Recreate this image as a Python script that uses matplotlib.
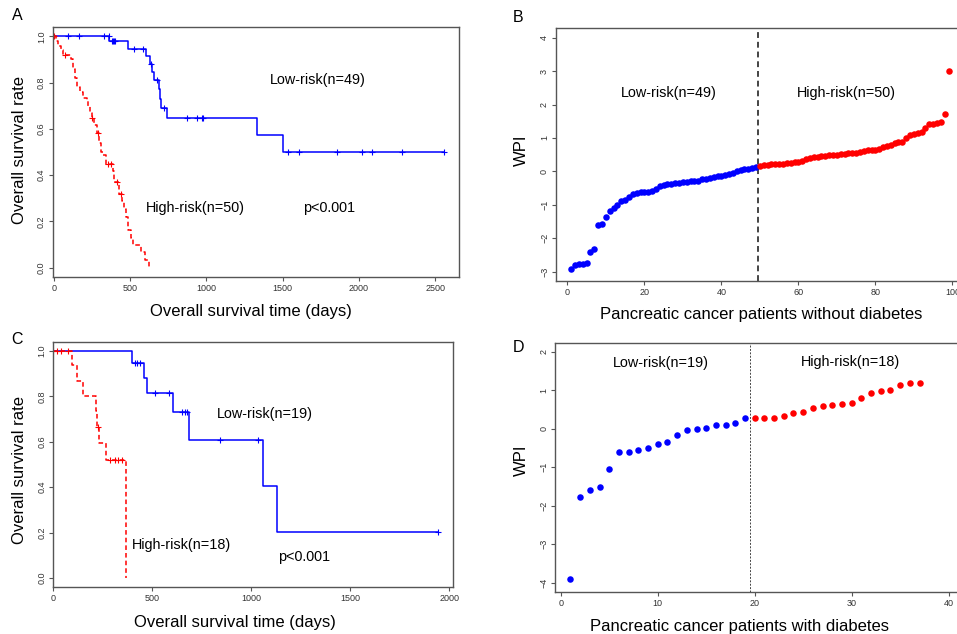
import numpy as np
import matplotlib
matplotlib.use("Agg")
import matplotlib.pyplot as plt

plt.rcParams['font.family'] = ['Liberation Sans', 'DejaVu Sans']

# ---------------- Data ----------------
# Panel A (without diabetes) KM step data
a_low_t = [0, 363, 483, 602, 630, 645, 658, 689, 696, 702, 739, 1330, 1500, 2560]
a_low_s = [1.0, 0.978, 0.946, 0.913, 0.880, 0.847, 0.812, 0.772, 0.731, 0.690, 0.645, 0.573, 0.501, 0.501]
a_low_cens = [94, 166, 330, 358, 380, 388, 395, 400, 525, 586, 636, 674, 724, 875, 936, 969, 975,
              1537, 1610, 1855, 2019, 2085, 2285, 2560]
a_high_t = [0, 13, 28, 44, 61, 109, 122, 138, 149, 171, 188, 214, 225, 236, 247, 262, 280, 297,
            309, 324, 341, 385, 394, 429, 444, 459, 472, 488, 503, 516, 569, 597, 625]
a_high_s = [1.0, 0.98, 0.96, 0.94, 0.92, 0.90, 0.86, 0.82, 0.78, 0.76, 0.735, 0.725, 0.70, 0.67,
            0.645, 0.615, 0.58, 0.54, 0.50, 0.485, 0.45, 0.42, 0.37, 0.32, 0.29, 0.255, 0.22,
            0.165, 0.13, 0.10, 0.07, 0.035, 0.0]
a_high_cens = [0, 72, 250, 286, 353, 374, 411, 437]

# Panel C (with diabetes) KM step data
c_low_t = [0, 396, 458, 471, 603, 685, 1061, 1128, 1945]
c_low_s = [1.0, 0.945, 0.879, 0.813, 0.732, 0.608, 0.406, 0.203, 0.203]
c_low_cens = [413, 424, 438, 514, 586, 648, 665, 677, 842, 1035, 1945]
c_high_t = [0, 96, 118, 152, 216, 222, 231, 266, 366]
c_high_s = [1.0, 0.937, 0.868, 0.801, 0.735, 0.666, 0.596, 0.52, 0.0]
c_high_cens = [0, 17, 39, 73, 227, 286, 312, 329, 345]

# Panel B: WPI, patients without diabetes (sorted)
b_low = [-2.91, -2.80, -2.78, -2.76, -2.74, -2.40, -2.33, -1.60, -1.57, -1.38, -1.20, -1.10,
         -1.00, -0.90, -0.86, -0.78, -0.69, -0.66, -0.63, -0.61, -0.61, -0.59, -0.54, -0.43,
         -0.40, -0.39, -0.38, -0.36, -0.34, -0.32, -0.31, -0.30, -0.30, -0.29, -0.24, -0.22,
         -0.21, -0.18, -0.15, -0.13, -0.11, -0.08, -0.04, 0.00, 0.04, 0.06, 0.07, 0.09, 0.14]
b_high = [0.17, 0.18, 0.20, 0.21, 0.22, 0.22, 0.23, 0.24, 0.26, 0.27, 0.28, 0.31, 0.38, 0.41,
          0.43, 0.44, 0.45, 0.47, 0.48, 0.49, 0.50, 0.51, 0.52, 0.54, 0.55, 0.56, 0.58, 0.61,
          0.64, 0.65, 0.65, 0.66, 0.74, 0.77, 0.80, 0.86, 0.89, 0.89, 0.99, 1.09, 1.11, 1.16,
          1.19, 1.31, 1.41, 1.42, 1.44, 1.49, 1.72, 3.00]

# Panel D: WPI, patients with diabetes (sorted)
d_low = [-3.90, -1.77, -1.59, -1.52, -1.04, -0.60, -0.60, -0.54, -0.50, -0.39, -0.34, -0.16,
         -0.02, 0.00, 0.01, 0.09, 0.09, 0.16, 0.27]
d_high = [0.29, 0.29, 0.29, 0.34, 0.42, 0.44, 0.53, 0.59, 0.62, 0.64, 0.67, 0.81, 0.93, 0.99,
          1.00, 1.13, 1.18, 1.19]

km_yticks = [0.0, 0.2, 0.4, 0.6, 0.8, 1.0]
a_xticks = [0, 500, 1000, 1500, 2000, 2500]
c_xticks = [0, 500, 1000, 1500, 2000]
b_xticks = [0, 20, 40, 60, 80, 100]
b_yticks = [-3, -2, -1, 0, 1, 2, 3, 4]
d_xticks = [0, 10, 20, 30, 40]
d_yticks = [-4, -3, -2, -1, 0, 1, 2]

# ---------------- Figure ----------------
W, H = 957, 634
fig = plt.figure(figsize=(W / 100, H / 100), dpi=100)

def px_axes(left, top, right, bottom):
    return fig.add_axes([left / W, 1 - bottom / H, (right - left) / W, (bottom - top) / H])

SPINE = '#555555'
TICKC = '#333333'
ANN = 10.4

def style(ax):
    for s in ax.spines.values():
        s.set_color(SPINE)
        s.set_linewidth(1.0)
    ax.tick_params(axis='both', direction='out', length=3, width=0.8, color=SPINE,
                   labelsize=6.5, labelcolor=TICKC, pad=2)
    for lab in ax.get_yticklabels():
        lab.set_rotation(90)
        lab.set_va('center')

def step_y(t, s, x):
    idx = np.searchsorted(np.asarray(t), np.asarray(x), side='right') - 1
    return np.asarray(s)[np.clip(idx, 0, len(s) - 1)]

def km_panel(ax, lt, ls, lc, ht, hs, hc, xlim, xticks):
    ax.step(lt, ls, where='post', color='#0000FF', lw=1.1)
    ax.plot(lc, step_y(lt, ls, lc), '+', color='#0000FF', ms=4, mew=0.8)
    ax.step(ht, hs, where='post', color='#FF0000', lw=1.1, ls=(0, (3, 2)))
    ax.plot(hc, step_y(ht, hs, hc), '+', color='#FF0000', ms=4, mew=0.8)
    ax.set_xlim(*xlim)
    ax.set_ylim(-0.04, 1.04)
    ax.set_xticks(xticks)
    ax.set_yticks(km_yticks)
    ax.set_yticklabels([f"{v:.1f}" for v in km_yticks])
    style(ax)

# Panel A
axA = px_axes(53, 27, 459, 277)
km_panel(axA, a_low_t, a_low_s, a_low_cens, a_high_t, a_high_s, a_high_cens,
         (-6.6, 2657), a_xticks)
axA.text(1732, 0.81, "Low-risk(n=49)", ha='center', va='center', fontsize=ANN)
axA.text(925, 0.26, "High-risk(n=50)", ha='center', va='center', fontsize=ANN)
axA.text(1804, 0.26, "p<0.001", ha='center', va='center', fontsize=ANN)

# Panel C
axC = px_axes(53.3, 341.7, 453.3, 587.3)
km_panel(axC, c_low_t, c_low_s, c_low_cens, c_high_t, c_high_s, c_high_cens,
         (0, 2020), c_xticks)
axC.text(1069, 0.722, "Low-risk(n=19)", ha='center', va='center', fontsize=ANN)
axC.text(645, 0.147, "High-risk(n=18)", ha='center', va='center', fontsize=ANN)
axC.text(1266, 0.094, "p<0.001", ha='center', va='center', fontsize=ANN)

# Panel B
axB = px_axes(556, 28.3, 967.6, 281)
xb_low = np.arange(1, len(b_low) + 1)
xb_high = np.arange(len(b_low) + 1, len(b_low) + len(b_high) + 1)
axB.scatter(xb_low, b_low, s=22, color='#0000FF', linewidths=0, zorder=3)
axB.scatter(xb_high, b_high, s=22, color='#FF0000', linewidths=0, zorder=3)
axB.axvline(len(b_low) + 0.5, color='#444444', lw=1.4, ls=(0, (3, 2)))
axB.set_xlim(-2.96, 103.96)
axB.set_ylim(-3.28, 4.28)
axB.set_xticks(b_xticks)
axB.set_yticks(b_yticks)
style(axB)
axB.text(26.4, 2.35, "Low-risk(n=49)", ha='center', va='center', fontsize=ANN)
axB.text(72.4, 2.35, "High-risk(n=50)", ha='center', va='center', fontsize=ANN)

# Panel D
axD = px_axes(555.3, 342.7, 963.8, 592)
xd_low = np.arange(1, len(d_low) + 1)
xd_high = np.arange(len(d_low) + 1, len(d_low) + len(d_high) + 1)
axD.scatter(xd_low, d_low, s=22, color='#0000FF', linewidths=0, zorder=3)
axD.scatter(xd_high, d_high, s=22, color='#FF0000', linewidths=0, zorder=3)
axD.axvline(len(d_low) + 0.5, color='#444444', lw=0.7, ls=(0, (2, 1.5)))
axD.set_xlim(-0.56, 41.56)
axD.set_ylim(-4.24, 2.24)
axD.set_xticks(d_xticks)
axD.set_yticks(d_yticks)
style(axD)
axD.text(10.3, 1.71, "Low-risk(n=19)", ha='center', va='center', fontsize=ANN)
axD.text(29.9, 1.74, "High-risk(n=18)", ha='center', va='center', fontsize=ANN)

# Axis labels (pixel placed)
def ftext(x, y, s, **kw):
    fig.text(x / W, 1 - y / H, s, **kw)

LBL = 12.0
ftext(251, 311, "Overall survival time (days)", ha='center', va='center', fontsize=LBL)
ftext(20, 150, "Overall survival rate", ha='center', va='center', fontsize=LBL, rotation=90)
ftext(761, 315, "Pancreatic cancer patients without diabetes", ha='center', va='center', fontsize=LBL)
ftext(521, 150, "WPI", ha='center', va='center', fontsize=LBL, rotation=90)
ftext(235, 622, "Overall survival time (days)", ha='center', va='center', fontsize=LBL)
ftext(20, 470, "Overall survival rate", ha='center', va='center', fontsize=LBL, rotation=90)
ftext(740, 626, "Pancreatic cancer patients with diabetes", ha='center', va='center', fontsize=LBL)
ftext(521, 460, "WPI", ha='center', va='center', fontsize=LBL, rotation=90)

# Panel letters
ftext(17, 16, "A", ha='center', va='center', fontsize=11.5)
ftext(518, 18, "B", ha='center', va='center', fontsize=11.5)
ftext(17, 340, "C", ha='center', va='center', fontsize=11.5)
ftext(518, 348, "D", ha='center', va='center', fontsize=11.5)

fig.savefig("out.png", dpi=100)
